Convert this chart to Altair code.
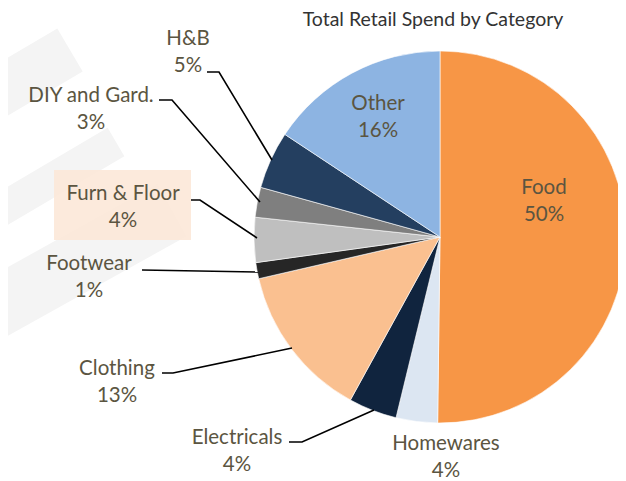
import altair as alt
import pandas as pd

# ---- data ----
categories = ["Food", "Homewares", "Electricals", "Clothing", "Footwear",
              "Furn & Floor", "DIY and Gard.", "H&B", "Other"]
shares = [50.2, 3.6, 4.2, 13.4, 1.4, 3.9, 2.6, 5.0, 15.7]
colors = ["#F79646", "#DCE6F2", "#10243E", "#FAC090", "#262626",
          "#BFBFBF", "#7F7F7F", "#243F60", "#8DB4E2"]
title_text = "Total Retail Spend by Category"

# ---- layout (page pixel coordinates) ----
label_x = [544, 446, 237, 117, 89, 123, 91, 188, 378]
label_y = [194, 450, 444, 375, 270, 200, 102, 45, 110]
leaders = {
    "Electricals": [(289, 442), (302, 442), (374, 410)],
    "Clothing": [(162, 373), (173, 373), (292, 348)],
    "Footwear": [(142, 270), (258, 272)],
    "Furn & Floor": [(191, 200), (200, 200), (257, 238)],
    "DIY and Gard.": [(159, 100), (172, 100), (260, 202)],
    "H&B": [(207, 72), (219, 72), (272, 160)],
}
highlight = {"x": 54, "x2": 191, "y": 170, "y2": 240}
# faint background watermark bands: centre line (start, end) and band width
watermark = [
    ((-20, 103), (70, 50), 50),
    ((-20, 222), (116, 142), 33),
    ((-20, 317), (172, 210), 60),
]
LINE_GAP = 27
CX, CY, R = 440, 237, 186
W, H = 610, 473
TEXT_COLOR = "#5B5541"
FONT = "Lato"

pie_df = pd.DataFrame({"cat": categories, "share": shares,
                       "idx": list(range(len(categories)))})

lab_rows = []
for c, s, x, y in zip(categories, shares, label_x, label_y):
    lab_rows.append({"cat": c, "x": x, "y": y, "t": c})
    lab_rows.append({"cat": c, "x": x, "y": y + LINE_GAP, "t": f"{round(s)}%"})
lab_df = pd.DataFrame(lab_rows)

ld_rows = []
for c, pts in leaders.items():
    for i, (px, py) in enumerate(pts):
        ld_rows.append({"cat": c, "i": i, "x": px, "y": py})
ld_df = pd.DataFrame(ld_rows)

wm_rows = []
for b, (p0, p1, w) in enumerate(watermark):
    wm_rows.append({"b": b, "i": 0, "x": p0[0], "y": p0[1], "w": w})
    wm_rows.append({"b": b, "i": 1, "x": p1[0], "y": p1[1], "w": w})
wm_df = pd.DataFrame(wm_rows)

xs = alt.Scale(domain=[8, 8 + W], range=[0, W], nice=False, zero=False)
ys = alt.Scale(domain=[8, 8 + H], range=[0, H], nice=False, zero=False)

wm = alt.Chart(wm_df).mark_line(color="#F4F4F4", strokeCap="butt").encode(
    x=alt.X("x:Q", scale=xs, axis=None),
    y=alt.Y("y:Q", scale=ys, axis=None),
    detail="b:N",
    order="i:Q",
    strokeWidth=alt.StrokeWidth("w:Q", scale=None, legend=None),
)

box = alt.Chart(pd.DataFrame([highlight])).mark_rect(color="#FCE8D8", opacity=0.9).encode(
    x=alt.X("x:Q", scale=xs, axis=None),
    x2="x2:Q",
    y=alt.Y("y:Q", scale=ys, axis=None),
    y2="y2:Q",
)

pie = alt.Chart(pie_df).mark_arc(radius=R, stroke="white", strokeWidth=0.6).encode(
    theta=alt.Theta("share:Q", stack=True),
    order=alt.Order("idx:Q"),
    color=alt.Color("cat:N", scale=alt.Scale(domain=categories, range=colors), legend=None),
    x=alt.value(CX - 8),
    y=alt.value(CY - 8),
)

lines = alt.Chart(ld_df).mark_line(color="black", strokeWidth=1.6).encode(
    x=alt.X("x:Q", scale=xs, axis=None),
    y=alt.Y("y:Q", scale=ys, axis=None),
    detail="cat:N",
    order="i:Q",
)

labels = alt.Chart(lab_df).mark_text(
    font=FONT, fontSize=20.5, color=TEXT_COLOR, align="center", baseline="alphabetic"
).encode(
    x=alt.X("x:Q", scale=xs, axis=None),
    y=alt.Y("y:Q", scale=ys, axis=None),
    text="t:N",
)

title = alt.Chart(pd.DataFrame({"x": [433], "y": [25.5], "t": [title_text]})).mark_text(
    font=FONT, fontSize=19.5, color="#333333", align="center", baseline="alphabetic"
).encode(
    x=alt.X("x:Q", scale=xs, axis=None),
    y=alt.Y("y:Q", scale=ys, axis=None),
    text="t:N",
)

chart = alt.layer(wm, box, pie, lines, labels, title).properties(
    width=W, height=H, autosize=alt.AutoSizeParams(type="none"), padding=0,
    background="white"
).configure_view(stroke=None)

chart.save("out.html", embed_options={"renderer": "svg", "actions": False})
